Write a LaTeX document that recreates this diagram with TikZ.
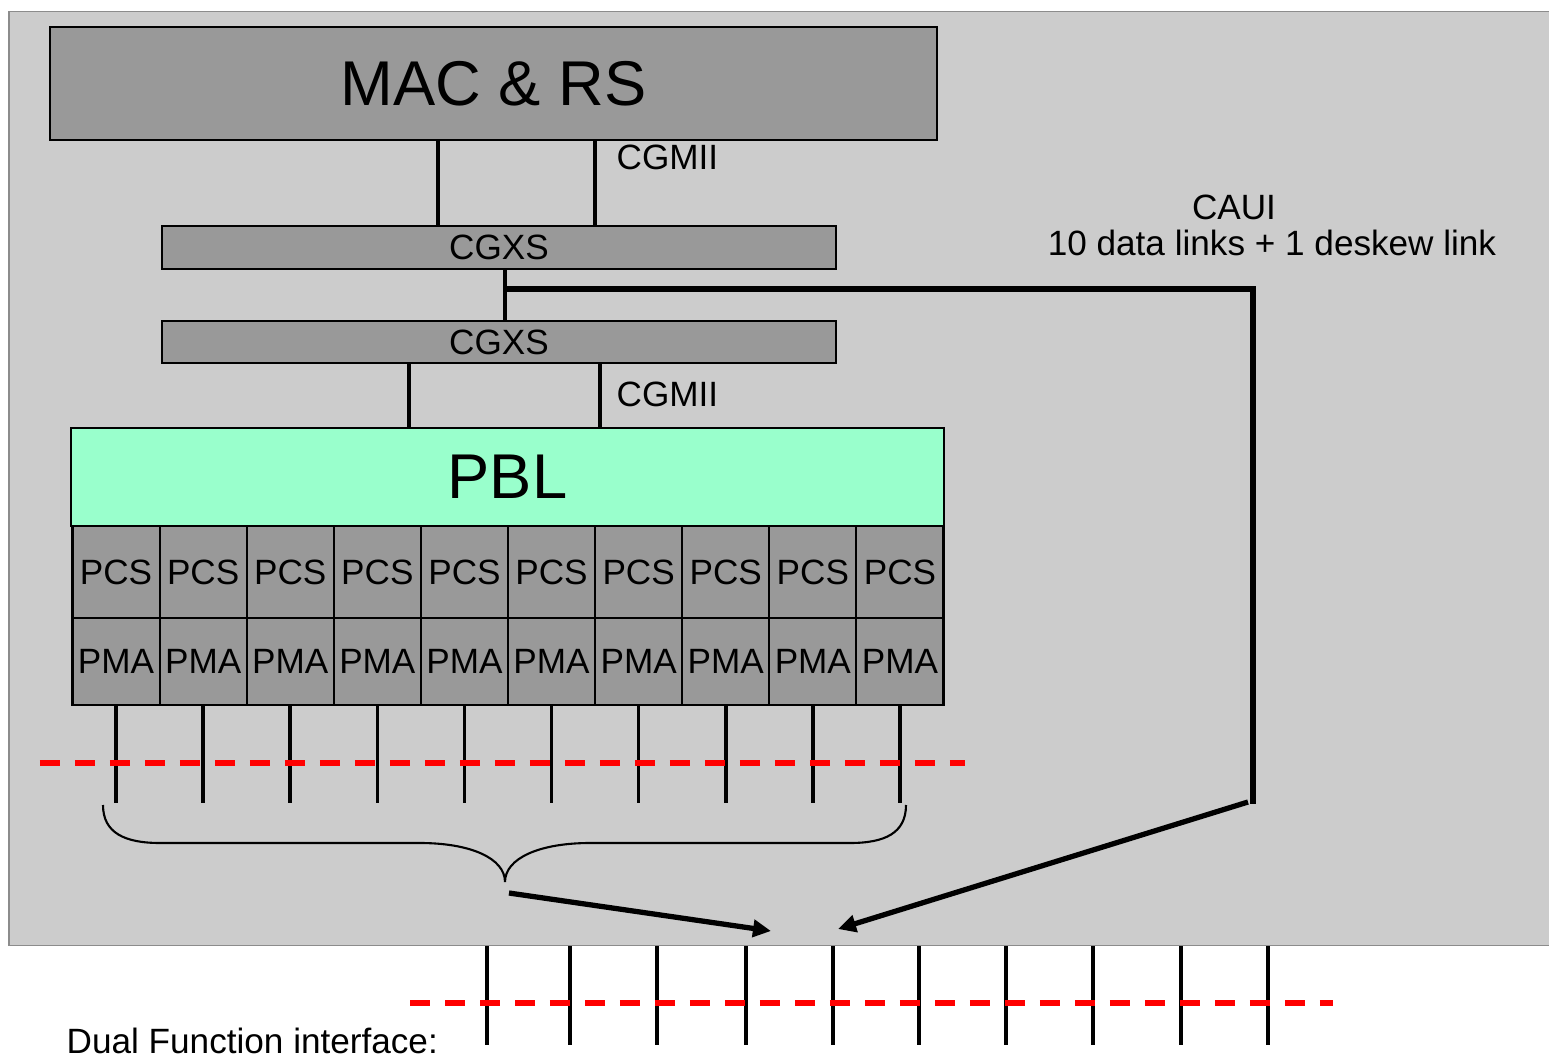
\documentclass[tikz,border=0pt]{standalone}
\usepackage{fontspec}
\setmainfont{Liberation Sans}
\usepackage{tikz}
\usetikzlibrary{positioning, arrows.meta}

\definecolor{panelgray}{HTML}{CCCCCC}
\definecolor{paneledge}{HTML}{8C8C8C}
\definecolor{layergray}{HTML}{999999}
\definecolor{pblgreen}{HTML}{99FFCC}
\definecolor{cutred}{HTML}{FF0000}

\begin{document}
\begin{tikzpicture}[
  bigtext/.style={font=\fontsize{18}{22}\selectfont},
  smalltext/.style={font=\fontsize{10}{12}\selectfont},
  layer/.style={draw, fill=layergray, line width=0.6pt, inner sep=0pt,
    outer sep=0pt, align=center},
  cell/.style={layer, smalltext, minimum width=0.871cm, minimum height=0.92cm},
  pmarow/.style={minimum height=0.87cm},
  lbl/.style={smalltext, inner sep=0pt},
  link/.style={line width=1pt},
  caui/.style={line width=1.5pt},
  cut/.style={draw=cutred, line width=1.6pt, dash pattern=on 0.2cm off 0.15cm},
  arrow/.style={-{Triangle[length=0.18cm, width=0.17cm]}, line width=1.5pt},
]
  \useasboundingbox (0,0) rectangle (15.49,-10.56);
  \clip (0,0) rectangle (15.49,-10.56);

  % grey panel behind the stack
  \filldraw[fill=panelgray, draw=paneledge, line width=0.5pt]
    (0.09,-0.115) rectangle (15.70,-9.455);

  \node[layer, bigtext, minimum width=8.87cm, minimum height=1.13cm] (mac)
    at (4.935,-0.835) {MAC \& RS};
  \node[layer, smalltext, minimum width=6.74cm, minimum height=0.43cm,
    below=0.86cm of mac, xshift=0.055cm] (cgxsA) {CGXS};
  \node[layer, smalltext, minimum width=6.74cm, minimum height=0.42cm,
    below=0.52cm of cgxsA] (cgxsB) {CGXS};
  \node[layer, bigtext, fill=pblgreen, minimum width=8.73cm, minimum height=0.98cm,
    below=0.65cm of cgxsB, xshift=0.085cm] (pbl) {PBL};

  % lanes under the PBL
  \node[cell, anchor=north west] (pcs1) at ([xshift=0.015cm]pbl.south west) {PCS};
  \node[cell, pmarow, below=0pt of pcs1] (pma1) {PMA};
  \foreach \i [remember=\i as \j (initially 1)] in {2,...,10} {
    \node[cell, right=0pt of pcs\j] (pcs\i) {PCS};
    \node[cell, pmarow, below=0pt of pcs\i] (pma\i) {PMA};
  }

  \node[lbl, anchor=base west] (cgmiiA) at (6.16,-1.69) {CGMII};
  \node[lbl, anchor=base west] (cgmiiB) at (6.16,-4.06) {CGMII};
  \node[lbl, anchor=base] (cauiname) at (12.34,-2.19) {CAUI};
  \node[lbl, anchor=base] (cauilinks) at (12.72,-2.55) {10 data links + 1 deskew link};
  \node[lbl, anchor=base west] (dualif) at (0.66,-10.53) {Dual Function interface:};

  \draw[link] ([xshift=-0.555cm]mac.south) -- ([xshift=-0.61cm]cgxsA.north);
  \draw[link] ([xshift=1.015cm]mac.south) -- ([xshift=0.96cm]cgxsA.north);
  \draw[link] ([xshift=0.06cm]cgxsA.south) -- ([xshift=0.06cm]cgxsB.north);
  \draw[link] ([xshift=-0.90cm]cgxsB.south) -- ([xshift=-0.985cm]pbl.north);
  \draw[link] ([xshift=1.01cm]cgxsB.south) -- ([xshift=0.925cm]pbl.north);

  % CAUI bypass
  \coordinate (tap) at (5.05,-2.89);
  \coordinate (cauicorner) at (12.53,-2.89);
  \coordinate (cauiend) at (12.53,-8.04);
  \coordinate (cauifoot) at (12.48,-8.02);
  \coordinate (meetright) at (8.38,-9.29);
  \coordinate (bracefoot) at (5.09,-8.93);
  \coordinate (meetleft) at (7.71,-9.31);
  \draw[caui] (tap) -- (cauicorner) -- (cauiend);

  \foreach \i in {1,...,10}
    \draw[link] (pma\i.south) -- ++(0,-0.98);
  \draw[cut] (0.40,-7.63) -- (9.65,-7.63);

  % brace gathering the ten lanes
  \draw[line width=0.6pt] (1.03,-8.05) .. controls (1.03,-8.33) and (1.25,-8.43) .. (1.60,-8.43)
    -- (4.20,-8.43) .. controls (4.70,-8.43) and (5.05,-8.58) .. (5.05,-8.82)
    .. controls (5.05,-8.58) and (5.40,-8.43) .. (5.90,-8.43)
    -- (8.50,-8.43) .. controls (8.85,-8.43) and (9.06,-8.33) .. (9.06,-8.05);

  \draw[arrow] (bracefoot) -- (meetleft);
  \draw[arrow] (cauifoot) -- (meetright);

  % dual function pins
  \foreach \x in {4.87,5.70,6.57,7.46,8.33,9.19,10.06,10.93,11.81,12.68}
    \draw[link] (\x,-9.46) -- (\x,-10.45);
  \draw[cut] (4.10,-10.03) -- (13.33,-10.03);
\end{tikzpicture}
\end{document}
